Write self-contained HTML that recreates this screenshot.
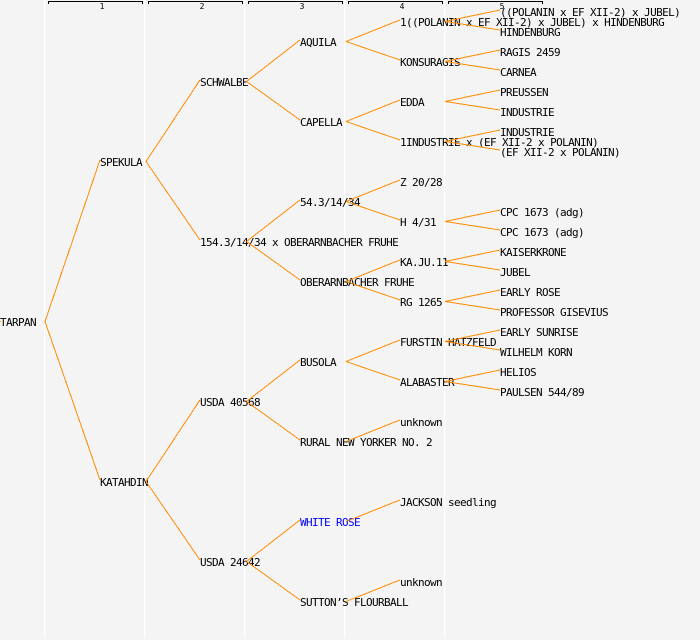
<!DOCTYPE html>
<html>
<head>
<meta charset="utf-8">
<style>
  html,body{margin:0;padding:0;background:#f4f4f4;}
  svg{display:block;}
  text{font-family:"DejaVu Sans Mono","Liberation Mono",monospace;font-size:11px;letter-spacing:-0.62px;fill:#000;}
  .h{font-size:8px;letter-spacing:0;text-anchor:middle;}
  line{stroke:#ff8c00;stroke-width:1;shape-rendering:crispEdges;}
</style>
</head>
<body>
<svg width="700" height="640" viewBox="0 0 700 640" xmlns="http://www.w3.org/2000/svg">
  <rect x="0" y="0" width="700" height="640" fill="#f4f4f4"/>
  <!-- column separators -->
  <g fill="#ffffff">
    <rect x="44" y="0" width="1.2" height="637"/>
    <rect x="144" y="0" width="1.2" height="637"/>
    <rect x="244" y="0" width="1.2" height="637"/>
    <rect x="344" y="0" width="1.2" height="637"/>
    <rect x="444" y="0" width="1.2" height="637"/>
  </g>
  <!-- header brackets -->
  <g fill="#000">
    <rect x="48" y="1" width="95" height="1"/><rect x="48" y="1" width="1" height="3"/><rect x="142" y="1" width="1" height="3"/>
    <rect x="148" y="1" width="95" height="1"/><rect x="148" y="1" width="1" height="3"/><rect x="242" y="1" width="1" height="3"/>
    <rect x="248" y="1" width="95" height="1"/><rect x="248" y="1" width="1" height="3"/><rect x="342" y="1" width="1" height="3"/>
    <rect x="348" y="1" width="95" height="1"/><rect x="348" y="1" width="1" height="3"/><rect x="442" y="1" width="1" height="3"/>
    <rect x="448" y="1" width="95" height="1"/><rect x="448" y="1" width="1" height="3"/><rect x="542" y="1" width="1" height="3"/>
  </g>
  <text class="h" x="102" y="9">1</text>
  <text class="h" x="202" y="9">2</text>
  <text class="h" x="302" y="9">3</text>
  <text class="h" x="402" y="9">4</text>
  <text class="h" x="502" y="9">5</text>

  <!-- labels -->
  <text x="0" y="326">TARPAN</text>

  <text x="100" y="166">SPEKULA</text>
  <text x="100" y="486">KATAHDIN</text>

  <text x="200" y="86">SCHWALBE</text>
  <text x="200" y="246">154.3/14/34 x OBERARNBACHER FRUHE</text>
  <text x="200" y="406">USDA 40568</text>
  <text x="200" y="566">USDA 24642</text>

  <text x="300" y="46">AQUILA</text>
  <text x="300" y="126">CAPELLA</text>
  <text x="300" y="206">54.3/14/34</text>
  <text x="300" y="286">OBERARNBACHER FRUHE</text>
  <text x="300" y="366">BUSOLA</text>
  <text x="300" y="446">RURAL NEW YORKER NO. 2</text>
  <text x="300" y="526" style="fill:#0000ff">WHITE ROSE</text>
  <text x="300" y="606">SUTTON’S FLOURBALL</text>

  <text x="400" y="26">1((POLANIN x EF XII-2) x JUBEL) x HINDENBURG</text>
  <text x="400" y="66">KONSURAGIS</text>
  <text x="400" y="106">EDDA</text>
  <text x="400" y="146">1INDUSTRIE x (EF XII-2 x POLANIN)</text>
  <text x="400" y="186">Z 20/28</text>
  <text x="400" y="226">H 4/31</text>
  <text x="400" y="266">KA.JU.11</text>
  <text x="400" y="306">RG 1265</text>
  <text x="400" y="346">FURSTIN HATZFELD</text>
  <text x="400" y="386">ALABASTER</text>
  <text x="400" y="426">unknown</text>
  <text x="400" y="506">JACKSON seedling</text>
  <text x="400" y="586">unknown</text>

  <text x="500" y="16">((POLANIN x EF XII-2) x JUBEL)</text>
  <text x="500" y="36">HINDENBURG</text>
  <text x="500" y="56">RAGIS 2459</text>
  <text x="500" y="76">CARNEA</text>
  <text x="500" y="96">PREUSSEN</text>
  <text x="500" y="116">INDUSTRIE</text>
  <text x="500" y="136">INDUSTRIE</text>
  <text x="500" y="156">(EF XII-2 x POLANIN)</text>
  <text x="500" y="216">CPC 1673 (adg)</text>
  <text x="500" y="236">CPC 1673 (adg)</text>
  <text x="500" y="256">KAISERKRONE</text>
  <text x="500" y="276">JUBEL</text>
  <text x="500" y="296">EARLY ROSE</text>
  <text x="500" y="316">PROFESSOR GISEVIUS</text>
  <text x="500" y="336">EARLY SUNRISE</text>
  <text x="500" y="356">WILHELM KORN</text>
  <text x="500" y="376">HELIOS</text>
  <text x="500" y="396">PAULSEN 544/89</text>

  <!-- connectors -->
  <rect x="0" y="321" width="1" height="1" fill="#ff8c00"/>
  <line x1="45" y1="321.5" x2="100" y2="160"/>
  <line x1="45" y1="321.5" x2="100" y2="480"/>

  <line x1="146" y1="161.5" x2="200" y2="80"/>
  <line x1="146" y1="161.5" x2="200" y2="240"/>
  <line x1="146" y1="481.5" x2="200" y2="400"/>
  <line x1="146" y1="481.5" x2="200" y2="560"/>

  <line x1="246.5" y1="81.5" x2="300" y2="40"/>
  <line x1="246.5" y1="81.5" x2="300" y2="120"/>
  <line x1="246.5" y1="241.5" x2="300" y2="200"/>
  <line x1="246.5" y1="241.5" x2="300" y2="280"/>
  <line x1="246.5" y1="401.5" x2="300" y2="360"/>
  <line x1="246.5" y1="401.5" x2="300" y2="440"/>
  <line x1="246.5" y1="561.5" x2="300" y2="520"/>
  <line x1="246.5" y1="561.5" x2="300" y2="600"/>

  <line x1="346" y1="41.5" x2="400" y2="20"/>
  <line x1="346" y1="41.5" x2="400" y2="60"/>
  <line x1="346" y1="121.5" x2="400" y2="100"/>
  <line x1="346" y1="121.5" x2="400" y2="140"/>
  <line x1="346" y1="201.5" x2="400" y2="180"/>
  <line x1="346" y1="201.5" x2="400" y2="220"/>
  <line x1="346" y1="281.5" x2="400" y2="260"/>
  <line x1="346" y1="281.5" x2="400" y2="300"/>
  <line x1="346" y1="361.5" x2="400" y2="340"/>
  <line x1="346" y1="361.5" x2="400" y2="380"/>
  <line x1="346" y1="441.5" x2="400" y2="420"/>
  <line x1="346" y1="521.5" x2="400" y2="500"/>
  <line x1="346" y1="601.5" x2="400" y2="580"/>

  <line x1="445" y1="21.5" x2="500" y2="10"/>
  <line x1="445" y1="21.5" x2="500" y2="30"/>
  <line x1="445" y1="61.5" x2="500" y2="50"/>
  <line x1="445" y1="61.5" x2="500" y2="70"/>
  <line x1="445" y1="101.5" x2="500" y2="90"/>
  <line x1="445" y1="101.5" x2="500" y2="110"/>
  <line x1="445" y1="141.5" x2="500" y2="130"/>
  <line x1="445" y1="141.5" x2="500" y2="150"/>
  <line x1="445" y1="221.5" x2="500" y2="210"/>
  <line x1="445" y1="221.5" x2="500" y2="230"/>
  <line x1="445" y1="261.5" x2="500" y2="250"/>
  <line x1="445" y1="261.5" x2="500" y2="270"/>
  <line x1="445" y1="301.5" x2="500" y2="290"/>
  <line x1="445" y1="301.5" x2="500" y2="310"/>
  <line x1="445" y1="341.5" x2="500" y2="330"/>
  <line x1="445" y1="341.5" x2="500" y2="350"/>
  <line x1="445" y1="381.5" x2="500" y2="370"/>
  <line x1="445" y1="381.5" x2="500" y2="390"/>
</svg>
</body>
</html>
